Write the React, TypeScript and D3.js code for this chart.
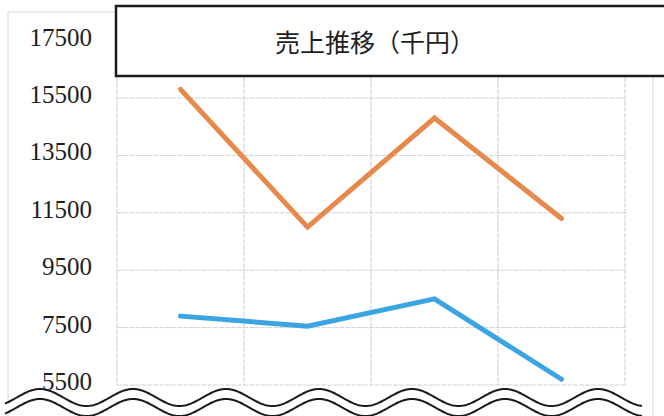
import React from "react";
import * as d3 from "d3";

const categories = ["1", "2", "3", "4"];
const seriesOrange = [15800, 11000, 14800, 11300];
const seriesBlue = [7900, 7550, 8500, 5700];
const yTicks = [17500, 15500, 13500, 11500, 9500, 7500, 5500];
const title = "売上推移（千円）";

const W = 664;
const H = 416;

export default function App() {
  const x = d3.scaleBand<string>().domain(categories).range([117, 625]).padding(0);
  const y = d3.scaleLinear().domain([5500, 17500]).range([385, 40.6]);
  const cx = (c: string) => (x(c) as number) + x.bandwidth() / 2;

  const line = d3
    .line<number>()
    .x((_, i) => cx(categories[i]))
    .y((d) => y(d));

  const gridX = [...categories.map((c) => x(c) as number), 625];
  const gridY = yTicks.filter((t) => t <= 15500);

  // decorative break wave
  const waveX = d3.range(5, 643, 1);
  const waveC = 397.5;
  const amp = 8.5;
  const period = 93;
  const wy = (xx: number) => waveC - amp * Math.cos((2 * Math.PI * (xx - 40)) / period);
  const wave = d3.line<number>().x((d) => d).y((d) => wy(d));
  const waveLow = d3.line<number>().x((d) => d).y((d) => wy(d) + 10);
  const band =
    "M" +
    waveX.map((d) => `${d},${wy(d) - 1}`).join("L") +
    "L" +
    [...waveX].reverse().map((d) => `${d},${wy(d) + 11}`).join("L") +
    "Z";

  return (
    <svg
      width={W}
      height={H}
      style={{ position: "absolute", left: 0, top: 0, background: "#fff" }}
    >
      <rect x={0} y={0} width={W} height={H} fill="#fff" />
      {/* faint outer frame */}
      <path d="M8,12 L117,12" stroke="#d6d6d6" strokeWidth={1} fill="none" />
      <path d="M8,12 L8,416" stroke="#d6d6d6" strokeWidth={1} fill="none" />
      <path d="M653,77 L653,416" stroke="#d6d6d6" strokeWidth={1} fill="none" />

      {/* grid */}
      {gridY.map((t) => (
        <line
          key={"h" + t}
          x1={117}
          x2={625}
          y1={y(t)}
          y2={y(t)}
          stroke="#d2d2d2"
          strokeWidth={1}
          strokeDasharray="5 1"
        />
      ))}
      {gridX.map((gx, i) => (
        <line
          key={"v" + i}
          x1={gx}
          x2={gx}
          y1={77}
          y2={385}
          stroke="#cdcdcd"
          strokeWidth={1}
          strokeDasharray="5 1"
        />
      ))}

      {/* y labels */}
      {yTicks.map((t) => (
        <text
          key={"l" + t}
          x={92}
          y={y(t) + 5}
          textAnchor="end"
          fontFamily="'Liberation Serif', 'DejaVu Serif', serif"
          fontSize={25}
          fill="#1e1e1e"
        >
          {t}
        </text>
      ))}

      {/* lines */}
      <path
        d={line(seriesOrange) || ""}
        fill="none"
        stroke="#E8894C"
        strokeWidth={5}
        strokeLinecap="round"
        strokeLinejoin="miter"
      />
      <path
        d={line(seriesBlue) || ""}
        fill="none"
        stroke="#3BA4E2"
        strokeWidth={5}
        strokeLinecap="round"
        strokeLinejoin="miter"
      />

      {/* title box */}
      <rect x={116} y={6} width={560} height={70} fill="#fff" stroke="#1a1a1a" strokeWidth={2.5} />
      <text
        x={375}
        y={52}
        textAnchor="middle"
        fontFamily="'Noto Sans CJK JP', 'Noto Sans', sans-serif"
        fontSize={25}
        fill="#1e1e1e"
      >
        {title}
      </text>

      {/* break wave */}
      <path d={band} fill="#fff" stroke="none" />
      <path d={wave(waveX) || ""} fill="none" stroke="#1a1a1a" strokeWidth={2} />
      <path d={waveLow(waveX) || ""} fill="none" stroke="#1a1a1a" strokeWidth={2} />
    </svg>
  );
}
